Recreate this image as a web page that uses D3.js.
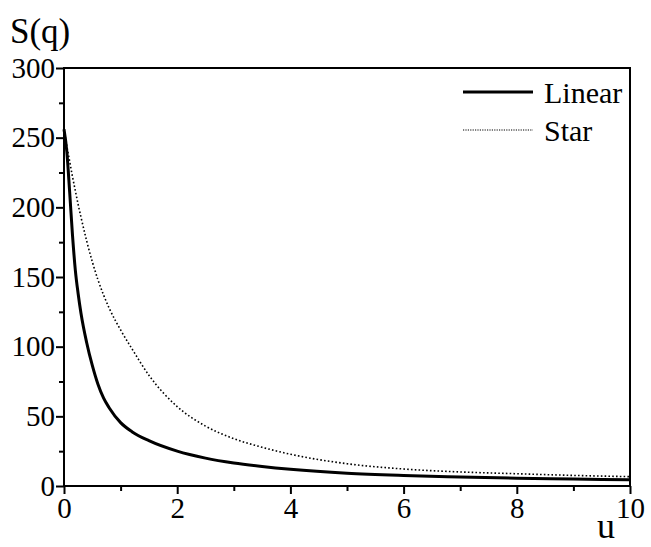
<!DOCTYPE html>
<html>
<head>
<meta charset="utf-8">
<script src="https://cdn.jsdelivr.net/npm/d3@7"></script>
<style>
  body { margin: 0; background: #fff; }
</style>
</head>
<body>
<div class="canvas"></div>
<script>
// values
const uValues = [0, 0.05, 0.1, 0.15, 0.2, 0.25, 0.3, 0.4, 0.5, 0.6, 0.7, 0.8, 1.0, 1.2, 1.5, 2, 2.5, 3, 3.5, 4, 5, 6, 7, 8, 9, 10];
const linearS = [256, 240, 211, 180, 155, 138, 124, 103, 86.5, 73, 63, 56, 45.5, 39, 32.5, 25, 20, 16.5, 14, 12, 9.2, 7.6, 6.5, 5.6, 5.0, 4.4];
const starS   = [256, 244, 233, 222, 212, 202, 193, 176, 161, 148, 137, 127.5, 112, 98.5, 79.5, 57, 43, 34, 27.8, 22.8, 16, 12.2, 10.1, 8.8, 7.6, 6.7];

const xMajor = [0, 2, 4, 6, 8, 10];
const xMinor = [1, 3, 5, 7, 9];
const yMajor = [0, 50, 100, 150, 200, 250, 300];
const yMinor = [25, 75, 125, 175, 225, 275];

const series = [
  { name: "Linear", values: linearS, width: 3, dash: null },
  { name: "Star", values: starS, width: 1.6, dash: "1.6,2.2" }
];

const FONT = "Liberation Serif";
const W = 651, H = 547;
const margin = { left: 64, right: 21, top: 68, bottom: 61 };

const svg = d3.select('.canvas')
  .append('svg')
  .attr('width', W)
  .attr('height', H)
  .attr("font-family", FONT);

const x = d3.scaleLinear().domain([0, 10]).range([margin.left, W - margin.right]);
const y = d3.scaleLinear().domain([0, 300]).range([H - margin.bottom, margin.top]);

// curves
const line = d3.line()
    .x((d, i) => x(uValues[i]))
    .y(d => y(d))
    .curve(d3.curveMonotoneX);

svg.append("g")
  .selectAll("path")
  .data(series)
  .join("path")
    .attr("d", d => line(d.values))
    .attr("fill", "none")
    .attr("stroke", "#000")
    .attr("stroke-width", d => d.width)
    .attr("stroke-dasharray", d => d.dash);

// frame
svg.append("rect")
    .attr("x", x(0)).attr("y", y(300))
    .attr("width", x(10) - x(0)).attr("height", y(0) - y(300))
    .attr("fill", "none")
    .attr("stroke", "#000")
    .attr("stroke-width", 2);

// axes
function styleAxis(g) {
  g.attr("font-family", FONT).attr("font-size", 29);
  g.select(".domain").remove();
  g.selectAll(".tick line").attr("stroke", "#000").attr("stroke-width", 2);
  g.selectAll(".tick text").attr("fill", "#000");
}

svg.append("g")
    .attr("transform", `translate(0,${y(0)})`)
    .call(d3.axisBottom(x).tickValues(xMajor).tickSize(8).tickPadding(3).tickFormat(d3.format("d")))
    .call(styleAxis);

svg.append("g")
    .attr("transform", `translate(0,${y(0)})`)
    .call(d3.axisBottom(x).tickValues(xMinor).tickSize(5).tickFormat(""))
    .call(styleAxis);

svg.append("g")
    .attr("transform", `translate(${x(0)},0)`)
    .call(d3.axisLeft(y).tickValues(yMajor).tickSize(8).tickPadding(1).tickFormat(d3.format("d")))
    .call(styleAxis);

svg.append("g")
    .attr("transform", `translate(${x(0)},0)`)
    .call(d3.axisLeft(y).tickValues(yMinor).tickSize(5).tickFormat(""))
    .call(styleAxis);

// axis titles
svg.append("text")
    .attr("x", 10)
    .attr("y", 43)
    .attr("font-size", 35)
    .text("S(q)");

svg.append("text")
    .attr("x", 597)
    .attr("y", 538)
    .attr("font-size", 36)
    .text("u");

// legend
const legend = svg.append("g").selectAll("g")
  .data(series)
  .join("g")
    .attr("transform", (d, i) => `translate(463,${92 + i * 38})`);

legend.append("line")
    .attr("x1", 0).attr("x2", 70)
    .attr("stroke", "#000")
    .attr("stroke-width", d => d.name === "Star" ? 1.2 : 3)
    .attr("stroke-dasharray", d => d.dash ? "1.2,1.2" : null);

legend.append("text")
    .attr("x", 81)
    .attr("y", 11)
    .attr("font-size", 30)
    .text(d => d.name);
</script>
</body>
</html>
